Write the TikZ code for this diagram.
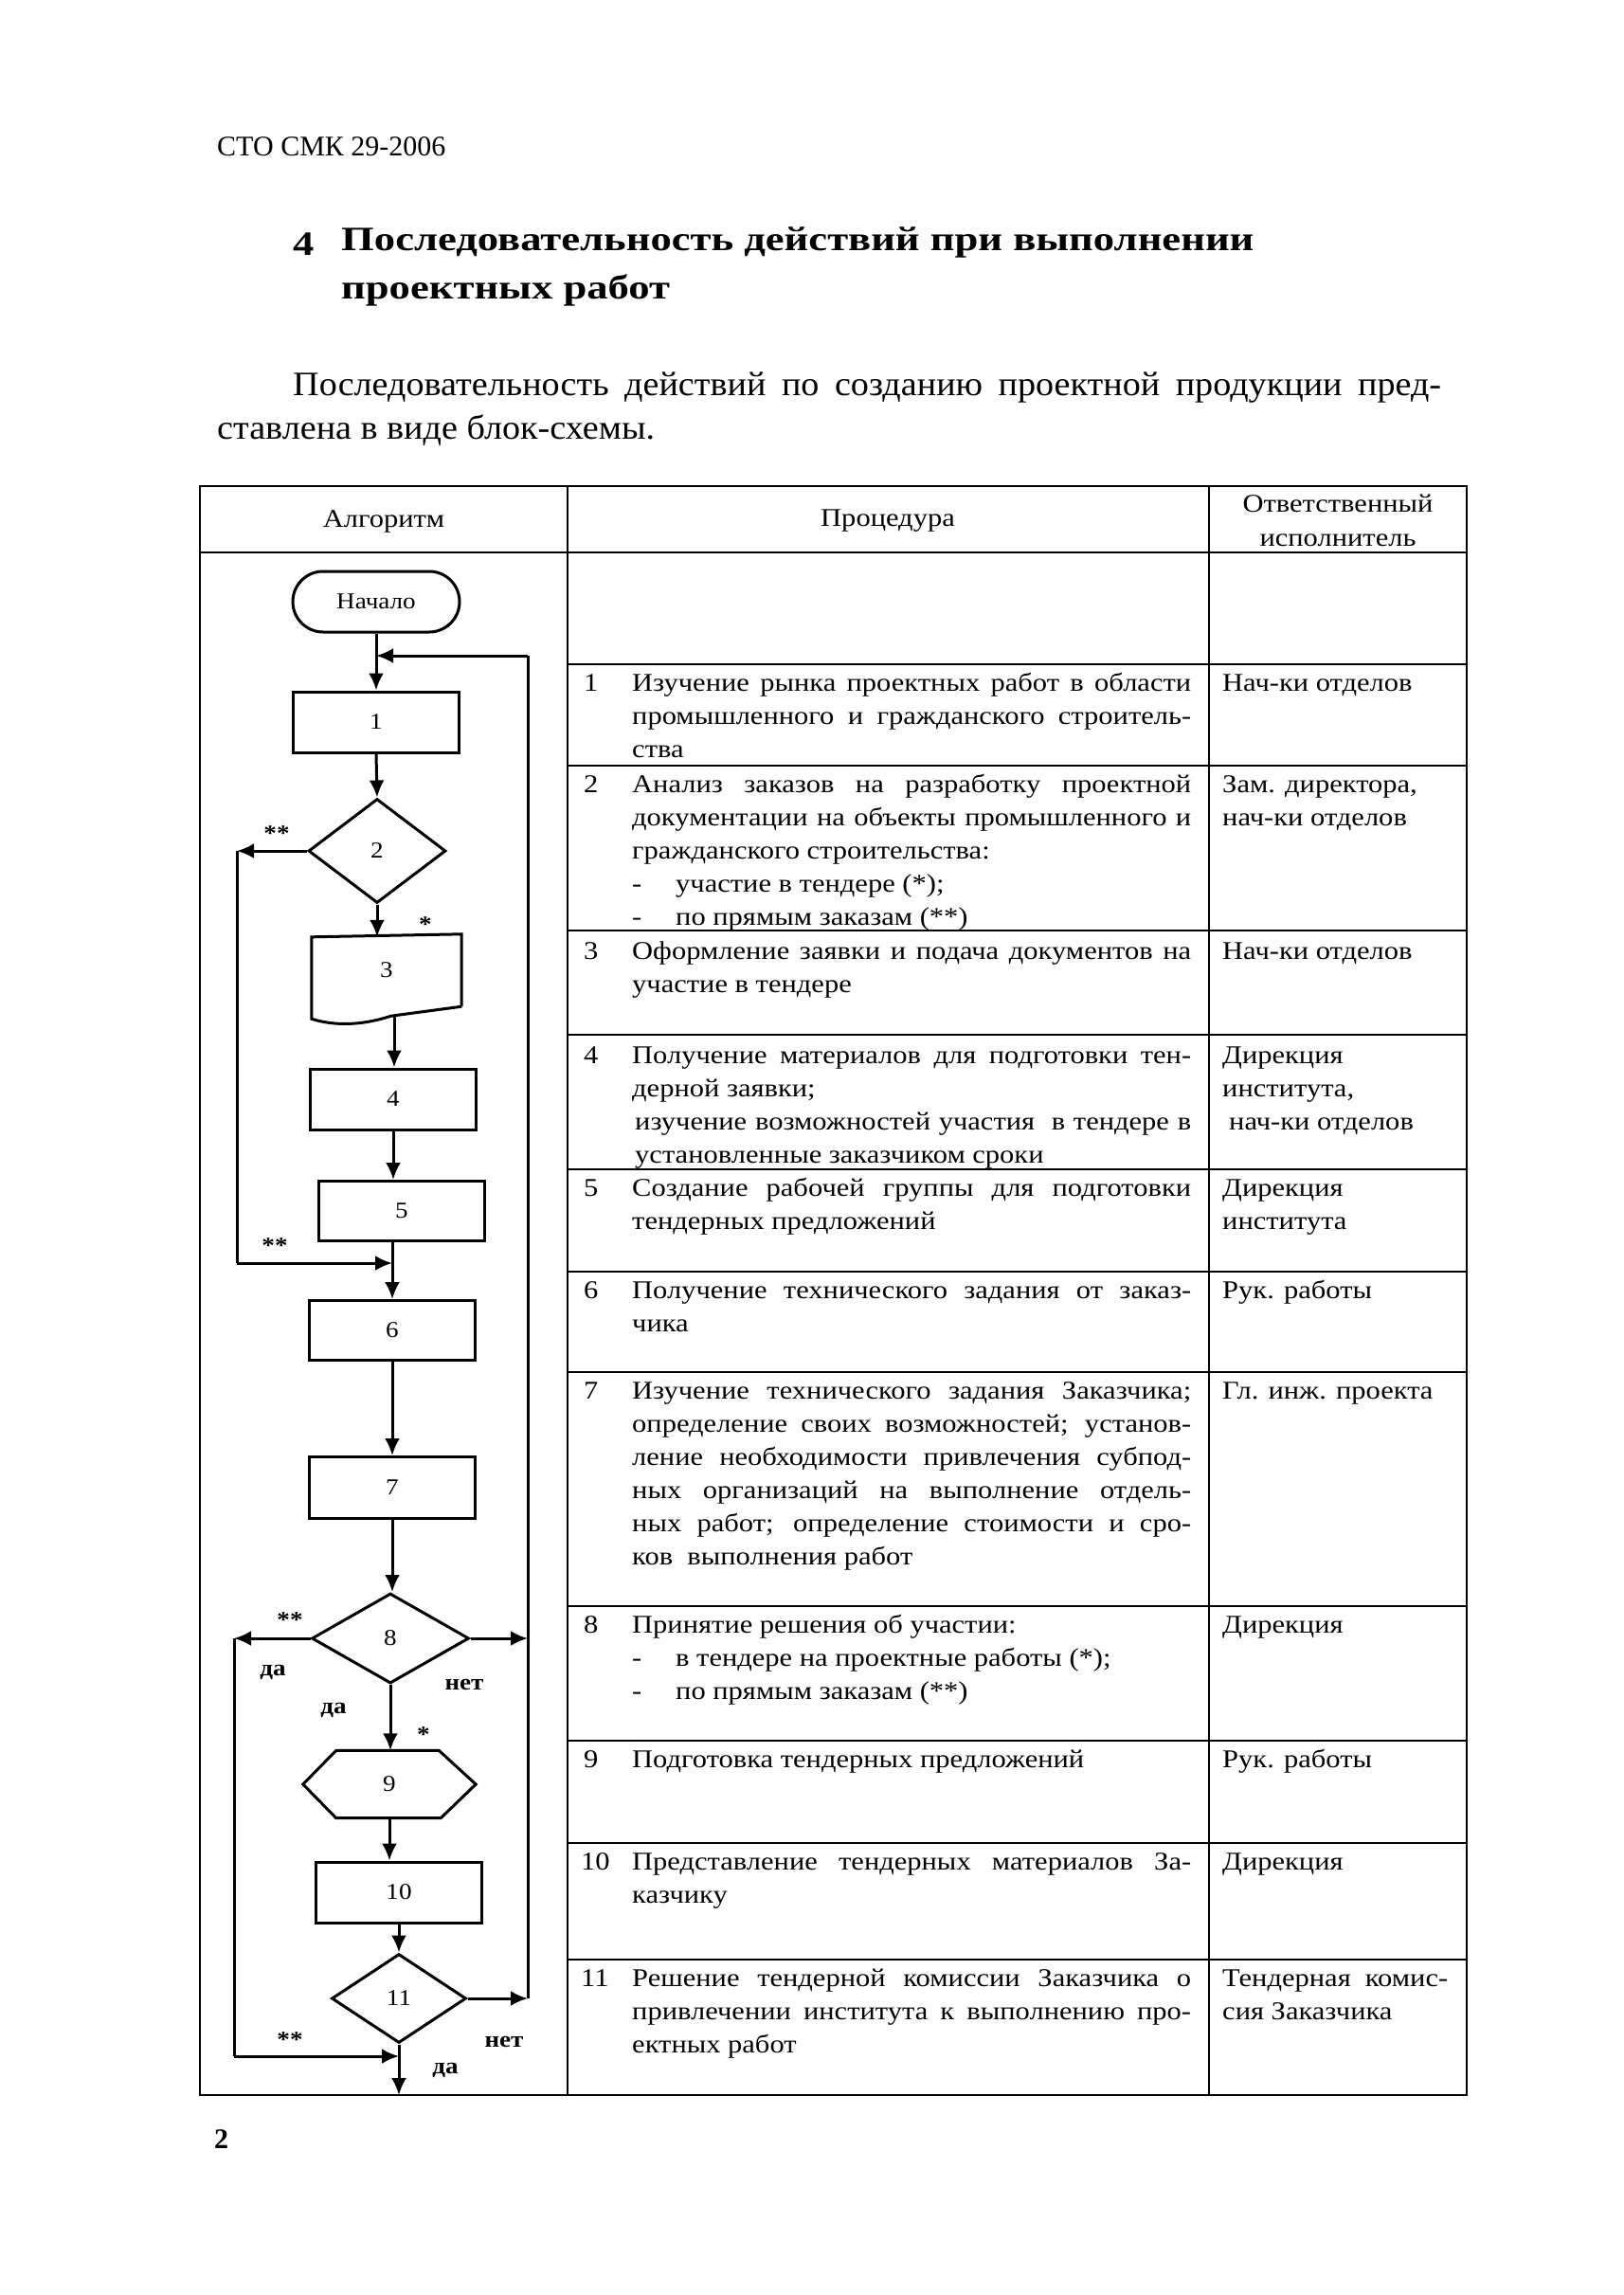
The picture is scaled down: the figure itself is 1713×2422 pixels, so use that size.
\documentclass[tikz,border=0pt]{standalone}
\usepackage{fontspec}
\setmainfont{Liberation Serif}
\newfontfamily\tabfont{Liberation Serif}[FakeStretch=1.13]
\newfontfamily\titfont{Liberation Serif}[FakeStretch=1.24]
\newfontfamily\parfont{Liberation Serif}[FakeStretch=1.06]
\usetikzlibrary{arrows.meta,shapes.geometric,calc}
\newcommand\TL[1]{\hbox to 590pt{#1}}
\newcommand\LL[1]{\hbox{#1}}
\newcommand\BL[1]{\hbox{\hbox to 46pt{-\hfil}#1}}
\tikzset{
  fcline/.style={line width=3pt, line join=miter},
  procbox/.style={draw, fcline, rectangle, minimum width=175pt, minimum height=64pt, inner sep=0, font=\tabfont\fontsize{24}{28}\selectfont},
  decis/.style={draw, fcline, diamond, inner sep=0, font=\tabfont\fontsize{24}{28}\selectfont},
  ghost/.style={rectangle, inner sep=0, font=\tabfont\fontsize{24}{28}\selectfont},
  conn/.style={line width=3pt},
  arr/.style={line width=3pt, -{Latex[length=18pt,width=16pt]}},
  lbl/.style={inner sep=0, font=\tabfont\bfseries\fontsize{24}{28}\selectfont},
  gridline/.style={line width=2.6pt},
  rowtxt/.style={anchor=base west, inner sep=0, align=left, font=\tabfont\fontsize{27}{35}\selectfont},
  hdr/.style={inner sep=0, align=center, font=\tabfont\fontsize{27}{36}\selectfont},
}
\begin{document}
\begin{tikzpicture}[x=1pt,y=-1pt]
\useasboundingbox[fill=white] (0,0) rectangle (1713,2422);

% ---------- page texts ----------
\node[anchor=west, inner sep=0, font=\fontsize{30}{36}\selectfont] (doc) at (229,155) {СТО СМК 29-2006};
\node[anchor=west, inner sep=0, font=\titfont\bfseries\fontsize{36}{51}\selectfont] (secnum) at (309,258) {4};
\node[anchor=north west, inner sep=0, align=left, font=\titfont\bfseries\fontsize{36}{51}\selectfont] (title) at (360,240) {Последовательность действий при выполнении\\проектных работ};
\node[anchor=base west, inner sep=0, font=\parfont\fontsize{36}{46}\selectfont] (par1) at (309,417) {\hbox to 1212pt{Последовательность действий по созданию проектной продукции пред-}};
\node[anchor=base west, inner sep=0, font=\parfont\fontsize{36}{46}\selectfont] (par2) at (229,463) {ставлена в виде блок-схемы.};
\node[anchor=west, inner sep=0, font=\bfseries\fontsize{30}{36}\selectfont] (pageno) at (226,2258) {2};

% ---------- table grid ----------
\draw[gridline] (211,513) rectangle (1548,2211);
\draw[gridline] (599,513) -- (599,2211);
\draw[gridline] (1276,513) -- (1276,2211);
\draw[gridline] (211,583) -- (1548,583);
\foreach \yy in {701,808,982,1092,1234,1342,1448,1695,1837,1945,2068}
  \draw[gridline] (599,\yy) -- (1548,\yy);

% ---------- header ----------
\node[hdr] (hA) at (405,550) {Алгоритм};
\node[hdr] (hB) at (937,550) {Процедура};
\node[hdr] (hC) at (1412,549) {Ответственный\\исполнитель};

% ---------- rows ----------
\node[rowtxt] (n1) at (616,729) {1};
\node[rowtxt] (p1) at (667,729) {\vtop{\TL{Изучение рынка проектных работ в области}\TL{промышленного и гражданского строитель-}\LL{ства}}};
\node[rowtxt] (r1) at (1290,729) {Нач-ки отделов};

\node[rowtxt] (n2) at (616,836) {2};
\node[rowtxt] (p2) at (667,836) {\vtop{\TL{Анализ заказов на разработку проектной}\TL{документации на объекты промышленного и}\LL{гражданского строительства:}\BL{участие в тендере (*);}\BL{по прямым заказам (**)}}};
\node[rowtxt] (r2) at (1290,836) {\vtop{\LL{Зам. директора,}\LL{нач-ки отделов}}};

\node[rowtxt] (n3) at (616,1012) {3};
\node[rowtxt] (p3) at (667,1012) {\vtop{\TL{Оформление заявки и подача документов на}\LL{участие в тендере}}};
\node[rowtxt] (r3) at (1290,1012) {Нач-ки отделов};

\node[rowtxt] (n4) at (616,1122) {4};
\node[rowtxt] (p4) at (667,1122) {\vtop{\TL{Получение материалов для подготовки тен-}\LL{дерной заявки;}\TL{\kern3pt изучение возможностей участия\ \ в тендере в}\LL{\kern3pt установленные заказчиком сроки}}};
\node[rowtxt] (r4) at (1290,1122) {\vtop{\LL{Дирекция}\LL{института,}\LL{\kern7pt нач-ки отделов}}};

\node[rowtxt] (n5) at (616,1262) {5};
\node[rowtxt] (p5) at (667,1262) {\vtop{\TL{Создание рабочей группы для подготовки}\LL{тендерных предложений}}};
\node[rowtxt] (r5) at (1290,1262) {\vtop{\LL{Дирекция}\LL{института}}};

\node[rowtxt] (n6) at (616,1370) {6};
\node[rowtxt] (p6) at (667,1370) {\vtop{\TL{Получение технического задания от заказ-}\LL{чика}}};
\node[rowtxt] (r6) at (1290,1370) {Рук. работы};

\node[rowtxt] (n7) at (616,1476) {7};
\node[rowtxt] (p7) at (667,1476) {\vtop{\TL{Изучение технического задания Заказчика;}\TL{определение своих возможностей; установ-}\TL{ление необходимости привлечения субпод-}\TL{ных организаций на выполнение отдель-}\TL{ных работ; определение стоимости и сро-}\LL{ков\ \ выполнения работ}}};
\node[rowtxt] (r7) at (1290,1476) {Гл. инж. проекта};

\node[rowtxt] (n8) at (616,1723) {8};
\node[rowtxt] (p8) at (667,1723) {\vtop{\LL{Принятие решения об участии:}\BL{в тендере на проектные работы (*);}\BL{по прямым заказам (**)}}};
\node[rowtxt] (r8) at (1290,1723) {Дирекция};

\node[rowtxt] (n9) at (616,1865) {9};
\node[rowtxt] (p9) at (667,1865) {Подготовка тендерных предложений};
\node[rowtxt] (r9) at (1290,1865) {Рук. работы};

\node[rowtxt] (n10) at (613,1973) {10};
\node[rowtxt] (p10) at (667,1973) {\vtop{\TL{Представление тендерных материалов За-}\LL{казчику}}};
\node[rowtxt] (r10) at (1290,1973) {Дирекция};

\node[rowtxt] (n11) at (613,2096) {11};
\node[rowtxt] (p11) at (667,2096) {\vtop{\TL{Решение тендерной комиссии Заказчика о}\TL{привлечении института к выполнению про-}\LL{ектных работ}}};
\node[rowtxt] (r11) at (1290,2096) {\vtop{\hbox to 238pt{Тендерная комис-}\LL{сия Заказчика}}};

% ---------- flowchart nodes ----------
\node[draw, fcline, rectangle, rounded corners=32pt, minimum width=176pt, minimum height=64pt, inner sep=0, font=\tabfont\fontsize{24}{28}\selectfont] (start) at (397,635) {Начало};
\node[procbox] (b1) at (397,762) {1};
\node[decis, minimum width=145pt, minimum height=110pt] (d2) at (398,898) {2};
\node[ghost, minimum width=158pt, minimum height=70pt] (b3) at (408,1024) {3};
\draw[fcline] ($(b3.south east)+(0,3)$) -- ($(b3.north east)+(0,-3)$) -- (b3.north west) -- ($(b3.south west)+(0,16)$)
  .. controls ($(b3.south west)+(22,23)$) and ($(b3.south west)+(50,24)$) .. ($(b3.south west)+(84,13)$) -- ($(b3.south east)+(0,3)$);
\coordinate (b3out) at (416,1071);
\node[procbox] (b4) at (415,1160) {4};
\node[procbox, minimum height=63pt] (b5) at (424,1278) {5};
\node[procbox, minimum height=63pt] (b6) at (414,1404) {6};
\node[procbox, minimum height=65pt] (b7) at (414,1570) {7};
\node[decis, minimum width=166pt, minimum height=95pt] (d8) at (412,1729) {8};
\node[ghost, minimum width=182pt, minimum height=71pt] (h9) at (411,1883) {9};
\draw[fcline] ($(h9.north west)+(35,0)$) -- ($(h9.north east)+(-39,0)$) -- (h9.east) -- ($(h9.south east)+(-37,0)$) -- ($(h9.south west)+(35,0)$) -- (h9.west) -- cycle;
\node[procbox] (b10) at (421,1997) {10};
\node[decis, minimum width=142pt, minimum height=94pt] (d11) at (421,2109) {11};

% ---------- connectors ----------
\coordinate (rt) at (557,692);
\coordinate (rb) at (557,2109);
\coordinate (l1) at (250,898);
\coordinate (l1b) at (250,1333);
\coordinate (l2) at (247,1729);
\coordinate (l2b) at (247,2170);
\coordinate (tbot) at (421,2211);

\draw[arr] (start.south) -- (b1.north);
\draw[arr] (b1.south) -- (d2.north);
\draw[arr] (d2.south) -- (d2.south |- b3.north);
\draw[arr] (b3out) -- (b3out |- b4.north);
\draw[arr] (b4.south) -- (b4.south |- b5.north);
\draw[arr] (b6.north |- b5.south) -- (b6.north);
\draw[arr] (b6.south) -- (b7.north);
\draw[arr] (b7.south) -- (b7.south |- d8.north);
\draw[arr] (d8.south) -- (d8.south |- h9.north);
\draw[arr] (h9.south) -- (h9.south |- b10.north);
\draw[arr] (b10.south) -- (d11.north);
\draw[arr] (d11.south) -- (tbot);

\draw[conn] (rb) -- (rt);
\draw[arr] (rt) -- (rt -| start.south);
\draw[arr] (d8.east) -- (d8.east -| rt);
\draw[arr] (d11.east) -- (rb);

\draw[arr] (d2.west) -- (l1);
\draw[conn] (l1) -- (l1b);
\draw[arr] (l1b) -- (l1b -| b6.north);

\draw[arr] (d8.west) -- (l2);
\draw[conn] (l2) -- (l2b);
\draw[arr] (l2b) -- (l2b -| tbot);

% ---------- flowchart labels ----------
\node[lbl] (s2a) at (292,880) {**};
\node[lbl] (s2b) at (449,976) {*};
\node[lbl] (s5) at (290,1315) {**};
\node[lbl] (s8a) at (306,1710) {**};
\node[lbl] (y8a) at (288,1765) {да};
\node[lbl] (no8) at (490,1778) {нет};
\node[lbl] (y8b) at (352,1805) {да};
\node[lbl] (s8b) at (447,1831) {*};
\node[lbl] (s11) at (306,2153) {**};
\node[lbl] (no11) at (532,2155) {нет};
\node[lbl] (y11) at (470,2185) {да};
\end{tikzpicture}
\end{document}
